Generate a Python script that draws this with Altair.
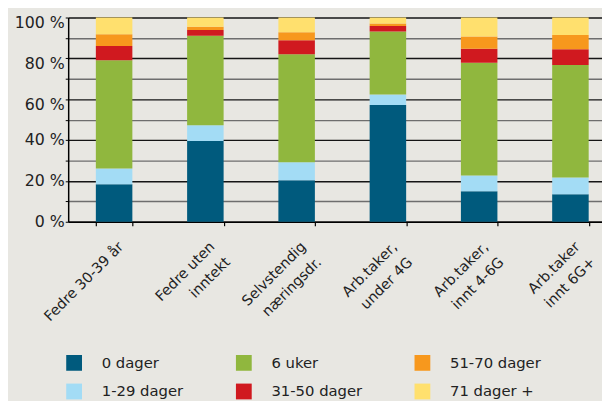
import altair as alt
import pandas as pd

categories = ["Fedre 30-39 år", "Fedre uten\ninntekt", "Selvstendig\nnæringsdr.",
              "Arb.taker,\nunder 4G", "Arb.taker,\ninnt 4-6G", "Arb.taker\ninnt 6G+"]
series_names = ["0 dager", "1-29 dager", "6 uker", "31-50 dager", "51-70 dager", "71 dager +"]
dager_0 = [18.4, 39.6, 20.3, 57.2, 15.0, 13.5]
dager_1_29 = [7.7, 7.6, 8.8, 5.1, 7.7, 8.2]
uker_6 = [53.0, 43.9, 52.9, 30.9, 55.2, 55.0]
dager_31_50 = [7.0, 2.8, 6.9, 2.6, 6.8, 7.8]
dager_51_70 = [5.7, 1.6, 3.9, 1.3, 6.0, 7.0]
dager_71 = [8.2, 4.5, 7.2, 2.9, 9.3, 8.5]
series_colors = ["#005A7D", "#A3DCF5", "#90B73E", "#D0191F", "#F7981D", "#FFE06E"]

values = [dager_0, dager_1_29, uker_6, dager_31_50, dager_51_70, dager_71]
rows = []
for k, (name, vals) in enumerate(zip(series_names, values)):
    for cat, v in zip(categories, vals):
        rows.append({"category": cat, "series": name, "value": v, "rank": k})
df = pd.DataFrame(rows)

FONT = "DejaVu Sans"
TXT = "#222222"

chart = alt.Chart(df).mark_bar().encode(
    x=alt.X("category:N", sort=categories, title=None,
            scale=alt.Scale(paddingInner=0.6, paddingOuter=0.2245, align=0.675),
            axis=alt.Axis(domainColor="#000000", domainWidth=1.5, tickBand="extent",
                          tickSize=4, tickColor="#000000", tickWidth=1.2,
                          labelAngle=-45, labelAlign="right", labelBaseline="top",
                          labelFont=FONT, labelFontSize=14.5, labelColor=TXT,
                          labelPadding=14, labelOffset=2, labelLineHeight=22,
                          labelOverlap=False, labelLimit=300,
                          labelExpr="split(datum.label, '\\n')")),
    y=alt.Y("value:Q", stack="zero", title=None,
            scale=alt.Scale(domain=[0, 100], nice=False),
            axis=alt.Axis(values=list(range(0, 101, 10)),
                          labelExpr="datum.value % 20 == 0 ? datum.value + ' %' : ''",
                          tickSize=3, tickColor="#000000", domainColor="#000000",
                          domainWidth=1.5, labelPadding=1,
                          labelFont=FONT, labelFontSize=16, labelColor=TXT,
                          labelOffset={"condition": {"test": "datum.value >= 60", "value": 5}, "value": 0},
                          grid=True, gridWidth=1.4,
                          gridColor={"condition": {"test": "datum.value % 20 == 0", "value": "#151515"},
                                     "value": "#6E6E6E"})),
    color=alt.Color("series:N",
                    scale=alt.Scale(domain=series_names, range=series_colors),
                    legend=alt.Legend(title=None, orient="none", legendX=-2, legendY=342,
                                      columns=3, symbolType="square", symbolSize=256,
                                      symbolStrokeWidth=0, symbolOpacity=1,
                                      labelFont=FONT, labelFontSize=15, labelColor=TXT,
                                      labelOffset=20, columnPadding=53, rowPadding=13,
                                      padding=0, labelLimit=300)),
    order=alt.Order("rank:Q"),
).properties(
    width=541, height=207,
    autosize=alt.AutoSizeParams(type="none"),
    padding={"left": 61, "top": 7, "right": 0, "bottom": 179},
    background="#E8E7E2",
).configure_view(stroke=None)

chart.save("out.html", embed_options={"renderer": "svg", "actions": False})
